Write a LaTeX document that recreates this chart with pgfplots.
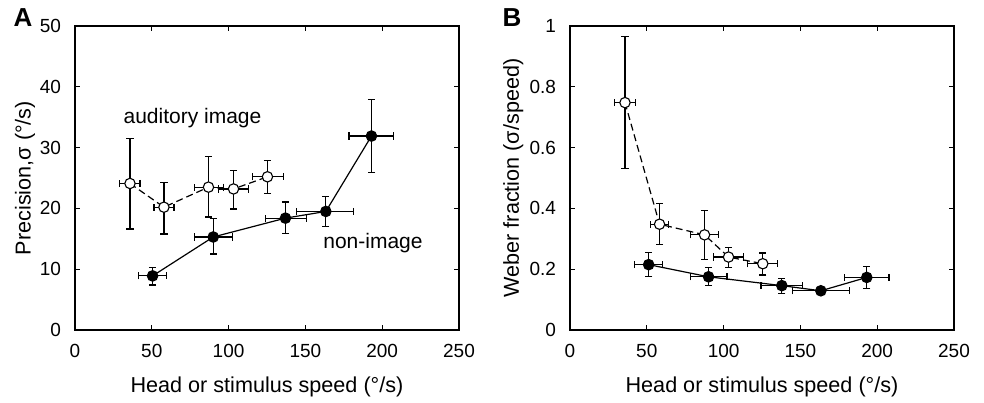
\documentclass[border=0pt]{standalone}
\usepackage{pgfplots}
\pgfplotsset{compat=1.18}
\usepackage{fontspec}
\setmainfont{Liberation Sans}
\pgfplotstableread{
x y xm xp ym yp
50.5 8.9 9.3 9.1 1.5 1.4
90.0 15.3 12.4 12.3 2.8 3.0
137.0 18.4 13.2 13.9 2.5 2.65
163.3 19.5 19.1 18.2 2.5 2.5
193.0 31.9 14.6 14.5 6.0 6.0
}\Afill
\pgfplotstableread{
x y xm xp ym yp
35.8 24.1 7.0 6.5 7.5 7.4
57.9 20.2 6.5 6.5 4.4 4.1
86.9 23.5 9.3 9.6 4.9 5.0
103.2 23.2 10 9.5 3.3 3.1
125.3 25.2 9.9 10.2 2.8 2.7
}\Aopen
\pgfplotstableread{
x y xm xp ym yp
35.8 0.748 7 7 0.218 0.217
58.3 0.348 6 6 0.066 0.067
87.6 0.313 9.3 9.3 0.080 0.079
103.2 0.240 9.7 9.7 0.035 0.031
125.5 0.218 9.8 9.8 0.037 0.035
}\Bopen
\pgfplotstableread{
x y xm xp ym yp
51.2 0.215 9 9 0.038 0.039
90.2 0.175 12 12 0.029 0.030
137.9 0.146 13.5 13.5 0.025 0.024
163.3 0.129 18.6 18.6 0.008 0.008
193.2 0.173 14.5 14.5 0.036 0.035
}\Bfill
\pgfplotsset{
  panel/.style={
    scale only axis, width=192pt, height=152pt, anchor=south west,
    xmin=0, xmax=250, xtick={0,50,...,250},
    tick align=inside, major tick length=2.5pt, tick pos=both,
    axis line style={line width=0.6pt}, every tick/.style={black, line width=0.5pt},
    /pgf/number format/assume math mode=true,
    tick label style={font=\fontsize{9.5}{11}\selectfont},
    label style={font=\fontsize{10.8}{13}\selectfont},
    xticklabel style={yshift=-3.5pt},
    yticklabel style={xshift=-3.5pt},
    xlabel style={at={(axis description cs:0.5,-0.1875)}, anchor=center},
    xlabel={Head or stimulus speed (°/s)},
  },
  err/.style={
    error bars/x dir=both, error bars/y dir=both,
    error bars/x explicit, error bars/y explicit,
    error bars/error bar style={line width=0.6pt, black, solid},
    error bars/error mark options={rotate=90, mark size=1.8pt, line width=0.6pt, solid},
  },
  filled/.style={black, line width=0.6pt, mark=*, mark size=2.6pt, mark options={fill=black, solid}, err},
  openm/.style={black, line width=0.6pt, dash pattern=on 3.5pt off 2pt, mark=*, mark size=2.6pt, mark options={fill=white, solid, line width=0.55pt}, err},
}
\begin{document}
\begin{tikzpicture}
\useasboundingbox (0,0) rectangle (492pt,201pt);
\begin{axis}[panel, at={(37.5pt,36pt)},
  ymin=0, ymax=50, ytick={0,10,...,50},
  ylabel={Precision,σ (°/s)},
  ylabel style={at={(axis description cs:-0.13,0.5)}, anchor=center},
]
\addplot+[openm] table[x=x,y=y,x error minus=xm,x error plus=xp,y error minus=ym,y error plus=yp] {\Aopen};
\addplot+[filled] table[x=x,y=y,x error minus=xm,x error plus=xp,y error minus=ym,y error plus=yp] {\Afill};
\node[font=\fontsize{10.5}{12}\selectfont] at (axis cs:76.5,34.8) {auditory image};
\node[font=\fontsize{10.5}{12}\selectfont] at (axis cs:194,14.3) {non-image};
\end{axis}
\begin{axis}[panel, at={(285pt,36pt)},
  ymin=0, ymax=1, ytick={0,0.2,...,1},
  ylabel={Weber fraction (σ/speed)},
  ylabel style={at={(axis description cs:-0.148,0.5)}, anchor=center},
]
\addplot+[openm] table[x=x,y=y,x error minus=xm,x error plus=xp,y error minus=ym,y error plus=yp] {\Bopen};
\addplot+[filled] table[x=x,y=y,x error minus=xm,x error plus=xp,y error minus=ym,y error plus=yp] {\Bfill};
\end{axis}
\node[font=\bfseries\fontsize{13}{15}\selectfont] at (11.5pt,192pt) {A};
\node[font=\bfseries\fontsize{13}{15}\selectfont] at (256pt,192pt) {B};
\end{tikzpicture}
\end{document}
